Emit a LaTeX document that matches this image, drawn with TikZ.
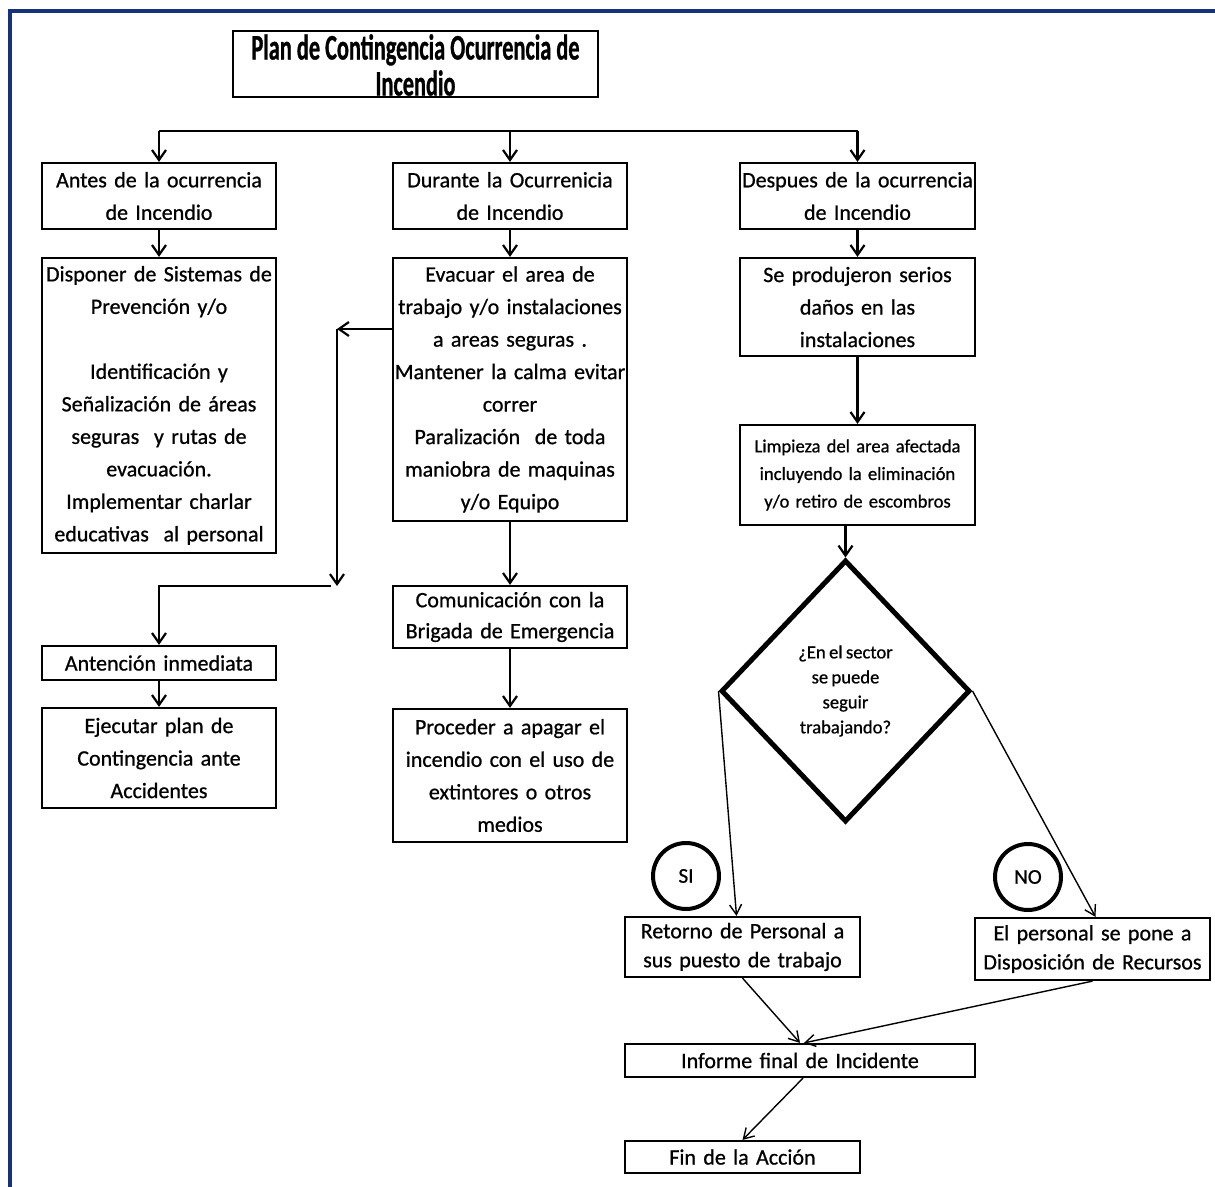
\documentclass[tikz,border=0pt]{standalone}
\usepackage{fontspec}
\setmainfont{Carlito}[WordSpace=0.8,FakeBold=0.8]
\newfontfamily\titlefont{Carlito Bold}[FakeStretch=0.62,FakeBold=0.8]
\usetikzlibrary{arrows.meta,shapes.geometric}
\definecolor{navy}{RGB}{22,50,122}
\begin{document}
\begin{tikzpicture}[x=0.5pt,y=-0.5pt,
 box/.style={draw, line width=1.1pt, inner sep=0pt, align=center, font=\fontsize{11}{16.25}\selectfont},
 arr/.style={line width=1.1pt, -{Straight Barb[length=5pt,width=7pt]}},
 thinarr/.style={line width=0.7pt, -{Straight Barb[length=5pt,width=6pt]}},
 plain/.style={line width=1.1pt},
 badge/.style={draw, circle, line width=2pt, minimum size=33pt, inner sep=0pt, font=\fontsize{10.5}{11}\selectfont},
]
\useasboundingbox (0,0) rectangle (1215,1187);
\draw[navy, line width=1.6pt] (10,1187) -- (10,11) -- (1215,11);

% title
\node[box, text width=182.5pt, minimum height=33pt] (title) at (415.5,64) {};
\node[font=\titlefont\fontsize{18}{18}\selectfont, align=center, inner sep=0pt] (titletxt) at (415.5,65) {Plan de Contingencia Ocurrencia de\\Incendio};

% left column
\node[box, text width=117pt, minimum height=33pt] (a1) at (159,196) {Antes de la ocurrencia\\de Incendio};
\node[box, text width=117pt, minimum height=147.5pt] (a2) at (159,405.5) {Disponer de Sistemas de\\Prevención y/o\\~\\Identificación y\\Señalización de áreas\\seguras\ \ y rutas de\\evacuación.\\Implementar charlar\\educativas\ \ al personal};
\node[box, text width=117pt, minimum height=17pt] (a3) at (159,663) {Antención inmediata};
\node[box, text width=117pt, minimum height=50pt] (a4) at (159,758) {Ejecutar plan de\\Contingencia ante\\Accidentes};

% middle column
\node[box, text width=117pt, minimum height=33pt] (b1) at (510,196) {Durante la Ocurrenicia\\de Incendio};
\node[box, text width=117pt, minimum height=131.5pt] (b2) at (510,389.5) {Evacuar el area de\\trabajo y/o instalaciones\\a areas seguras .\\Mantener la calma evitar\\correr\\Paralización\ \ de toda\\maniobra de maquinas\\y/o Equipo};
\node[box, text width=117pt, minimum height=31pt, font=\fontsize{11}{15.5}\selectfont] (b3) at (510,617) {Comunicación con la\\Brigada de Emergencia};
\node[box, text width=117pt, minimum height=66.5pt] (b4) at (510,775.5) {Proceder a apagar el\\incendio con el uso de\\extintores o otros\\medios};

% right column
\node[box, text width=117.5pt, minimum height=33pt] (c1) at (857.5,196) {Despues de la ocurrencia\\de Incendio};
\node[box, text width=117.5pt, minimum height=49pt] (c2) at (857.5,307) {Se produjeron serios\\daños en las\\instalaciones};
\node[box, text width=117.5pt, minimum height=50pt, font=\fontsize{9.3}{13.8}\selectfont] (c3) at (857.5,475) {Limpieza del area afectada\\incluyendo la eliminación\\y/o retiro de escombros};
\node[draw, diamond, line width=2.5pt, minimum width=124.5pt, minimum height=131pt, inner sep=0pt, align=center, font=\fontsize{9.3}{12.5}\selectfont] (dia) at (845.5,691) {¿En el sector\\se puede\\seguir\\trabajando?};

\node[badge] (si) at (686,876) {SI};
\node[badge] (no) at (1028,877) {NO};

\node[box, text width=117.5pt, minimum height=30pt, font=\fontsize{11}{14.5}\selectfont] (ret) at (742.5,947) {Retorno de Personal a\\sus puesto de trabajo};
\node[box, text width=117.5pt, minimum height=31pt, font=\fontsize{11}{14.5}\selectfont] (pers) at (1092.5,949) {El personal se pone a\\Disposición de Recursos};
\node[box, text width=175pt, minimum height=16.5pt] (inf) at (800,1060.5) {Informe final de Incidente};
\node[box, text width=117.5pt, minimum height=16pt] (fin) at (742.5,1157) {Fin de la Acción};

% connectors
\coordinate (bus) at (500,131);
\draw[plain] (a1.north |- bus) -- (c1.north |- bus);
\draw[arr] (a1.north |- bus) -- (a1.north);
\draw[arr] (b1.north |- bus) -- (b1.north);
\draw[arr] (c1.north |- bus) -- (c1.north);

\draw[arr] (a1) -- (a2);
\draw[arr] (a3) -- (a4);
\draw[arr] (b1) -- (b2);
\draw[arr] (b2) -- (b3);
\draw[arr] (b3) -- (b4);
\draw[arr] (c1) -- (c2);
\draw[arr] (c2) -- (c3);
\draw[arr] (c3.south -| dia.north) -- (dia.north);

\coordinate (lb) at (337,329);
\coordinate (lc) at (337,586);
\coordinate (ld) at (331,586);
\draw[arr] (b2.west |- lb) -- (lb);
\draw[arr] (lb) -- (lc);
\draw[arr] (ld) -| (a3.north);

\draw[thinarr] (dia.west) -- ([xshift=-3pt]ret.north);
\draw[thinarr] (dia.east) -- ([xshift=1.5pt]pers.north);
\draw[thinarr] (ret.south) -- (inf.north);
\draw[thinarr] (pers.south) -- ([xshift=2pt]inf.north);
\draw[thinarr] ([xshift=1.5pt]inf.south) -- (fin.north);
\end{tikzpicture}
\end{document}
